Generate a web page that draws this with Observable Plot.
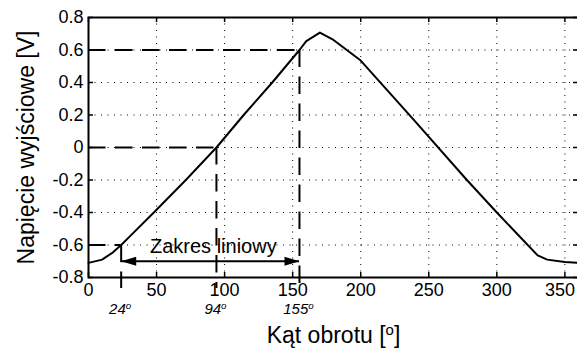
<!DOCTYPE html>
<html>
<head>
<meta charset="utf-8">
<script src="https://cdn.jsdelivr.net/npm/d3@7"></script>
<script src="https://cdn.jsdelivr.net/npm/@observablehq/plot@0.6"></script>
<style>
  html, body { margin: 0; padding: 0; background: #fff; }
  #chart svg { display: block; }
</style>
</head>
<body>
<div id="chart"></div>
<script>
// Measured curve: rotation angle [deg] -> output voltage [V]
const angle   = [0, 10, 18, 24, 30, 48, 71.5, 94, 114, 135, 141, 155, 160, 170, 180, 200, 239, 278, 300, 330, 337, 350, 360];
const voltage = [-0.71, -0.69, -0.645, -0.6, -0.55, -0.4, -0.2, 0, 0.2, 0.4, 0.46, 0.6, 0.655, 0.707, 0.662, 0.535, 0.17, -0.2, -0.40, -0.664, -0.69, -0.705, -0.71];

// Reference points of the linear range
const refAngle   = [24, 94, 155];
const refVoltage = [-0.6, 0, 0.6];
const refLabels  = ["24ᵒ", "94ᵒ", "155ᵒ"];

const arrowVoltage = -0.7;
const rangeLabel = "Zakres liniowy";

const xTicks = [0, 50, 100, 150, 200, 250, 300, 350];
const yTicks = [-0.8, -0.6, -0.4, -0.2, 0, 0.2, 0.4, 0.6, 0.8];
const xLabel = "Kąt obrotu [ᵒ]";
const yLabel = "Napięcie wyjściowe [V]";

const curve = angle.map((a, i) => ({a, v: voltage[i]}));
const refs = refAngle.map((a, i) => ({a, v: refVoltage[i], label: refLabels[i]}));
const arrow = [{a1: refAngle[0], a2: refAngle[2], v: arrowVoltage}];

const W = 577, H = 349, mL = 88, mR = -1, mT = 17, mB = 72;
const plotW = W - mL - mR, plotH = H - mT - mB;
const tickLen = 5;
const dash = "17.5,9.5";
const yMin = yTicks[0];
const below = yMin - 11 * (yTicks[yTicks.length - 1] - yMin) / plotH; // extend 11px below axis

const headRight = {
  draw(ctx) {
    ctx.moveTo(0, 0);
    ctx.lineTo(-15, -4.5);
    ctx.lineTo(-15, 4.5);
    ctx.closePath();
  }
};

const chart = Plot.plot({
  width: W, height: H,
  marginLeft: mL, marginRight: mR, marginTop: mT, marginBottom: mB,
  style: {fontFamily: "'Liberation Sans', Arial, sans-serif", fontSize: "18px", color: "#000", background: "#fff", overflow: "visible"},
  x: {domain: [0, 360]},
  y: {domain: [-0.8, 0.8]},
  marks: [
    Plot.gridX(xTicks, {stroke: "#000", strokeOpacity: 1, strokeWidth: 1, strokeDasharray: "1,5.5"}),
    Plot.gridY(yTicks, {stroke: "#000", strokeOpacity: 1, strokeWidth: 1, strokeDasharray: "1,5.5"}),
    // horizontal dashed reference lines
    Plot.ruleY(refs, {y: "v", x1: () => 0, x2: "a", stroke: "#000", strokeWidth: 2, strokeDasharray: dash}),
    // vertical dashed reference lines
    Plot.ruleX(refs, {x: "a", y1: "v", y2: () => below, stroke: "#000", strokeWidth: 2, strokeDasharray: dash}),
    // measured curve
    Plot.line(curve, {x: "a", y: "v", stroke: "#000", strokeWidth: 2}),
    // double arrow for the linear range
    Plot.ruleY(arrow, {y: "v", x1: "a1", x2: "a2", stroke: "#000", strokeWidth: 2}),
    Plot.dot(arrow, {x: "a2", y: "v", symbol: headRight, r: 5, fill: "#000", stroke: null}),
    Plot.dot(arrow, {x: "a1", y: "v", symbol: headRight, r: 5, fill: "#000", stroke: null, rotate: 180}),
    Plot.text(arrow, {x: d => (d.a1 + d.a2) / 2, y: "v", text: () => rangeLabel, dx: 3, dy: -15, fontSize: 20, fill: "#000"}),
    // angle labels under the axis
    Plot.text(refs, {x: "a", y: () => yMin, text: "label", dx: -1, dy: 32, fontSize: 15, fontStyle: "italic", fill: "#000"}),
    // frame and inward ticks
    Plot.frame({stroke: "#000", strokeWidth: 2}),
    Plot.tickX(xTicks, {x: d => d, insetTop: plotH - tickLen, stroke: "#000", strokeWidth: 1.5}),
    Plot.tickX(xTicks, {x: d => d, insetBottom: plotH - tickLen, stroke: "#000", strokeWidth: 1.5}),
    Plot.tickY(yTicks, {y: d => d, insetRight: plotW - tickLen, stroke: "#000", strokeWidth: 1.5}),
    Plot.tickY(yTicks, {y: d => d, insetLeft: plotW - tickLen, stroke: "#000", strokeWidth: 1.5}),
    // axes tick labels
    Plot.axisX(xTicks, {tickSize: 0, tickPadding: 6, label: null, fontSize: 18, tickFormat: d => String(d)}),
    Plot.axisY(yTicks, {tickSize: 0, tickPadding: 5, label: null, fontSize: 18, tickFormat: d => String(d)}),
    // axis titles
    Plot.text([yLabel], {frameAnchor: "left", text: d => d, rotate: -90, dx: -62, textAnchor: "middle", lineAnchor: "middle", fontSize: 23, fill: "#000"}),
    Plot.text([xLabel], {frameAnchor: "bottom", text: d => d, dy: 58, textAnchor: "middle", lineAnchor: "middle", fontSize: 23, fill: "#000"})
  ]
});

// Render the "ᵒ" marker as a raised small "o" (superscript), as in the reference
d3.select(chart).selectAll("text").each(function () {
  const t = this.textContent;
  if (!t || !t.includes("ᵒ") || this.children.length) return;
  const sel = d3.select(this);
  sel.text(null);
  const parts = t.split("ᵒ");
  parts.forEach((part, i) => {
    if (part) sel.append("tspan").text(part);
    if (i < parts.length - 1) {
      sel.append("tspan").attr("baseline-shift", "super").attr("font-size", "65%").text("o");
    }
  });
});

document.getElementById("chart").appendChild(chart);

// Keep any text that would run past the right edge inside the picture
const svgBox = chart.getBoundingClientRect();
d3.select(chart).selectAll("text").each(function () {
  const b = this.getBoundingClientRect();
  const over = b.right - (svgBox.left + W - 2);
  if (over > 0) {
    const tr = this.getAttribute("transform") || "";
    this.setAttribute("transform", `translate(${-over},0) ${tr}`);
  }
});
</script>
</body>
</html>
